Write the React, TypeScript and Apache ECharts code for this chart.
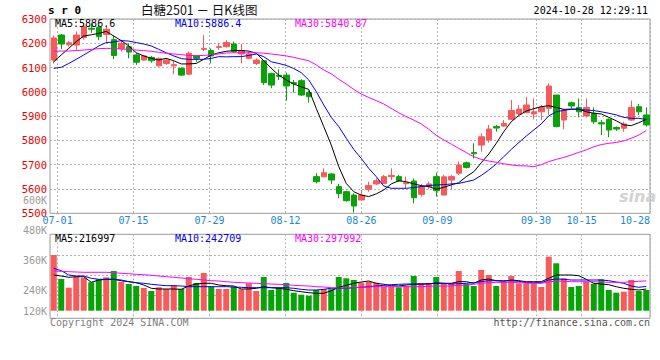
import React, { useEffect, useRef } from 'react';
import * as echarts from 'echarts';

const DATES = [
  '06-28',
  '07-01','07-02','07-03','07-04','07-05','07-08','07-09','07-10','07-11','07-12','07-15','07-16','07-17','07-18','07-19','07-22','07-23','07-24','07-25','07-26','07-29','07-30','07-31',
  '08-01','08-02','08-05','08-06','08-07','08-08','08-09','08-12','08-13','08-14','08-15','08-16','08-19','08-20','08-21','08-22','08-23','08-26','08-27','08-28','08-29','08-30',
  '09-02','09-03','09-04','09-05','09-06','09-09','09-10','09-11','09-12','09-13','09-18','09-19','09-20','09-23','09-24','09-25','09-26','09-27','09-30',
  '10-08','10-09','10-10','10-11','10-14','10-15','10-16','10-17','10-18','10-21','10-22','10-23','10-24','10-25','10-28'
];
const LABEL_DATES = ['07-01', '07-15', '07-29', '08-12', '08-26', '09-09', '09-30', '10-15', '10-28'];

const OPEN = [6131,6234,6194,6193,6224,6262,6266,6236,6215,6179,
  6186,6152,6131,6142,6107,6117,6107,6097,6073,6148,
  6175,6170,6183,6186,6197,6156,6138,6117,6128,6076,
  6068,6069,6038,6046,5997,5651,5650,5662,5610,5589,
  5575,5555,5599,5621,5623,5651,5651,5622,5633,5578,
  5610,5651,5575,5637,5665,5708,5750,5781,5802,5857,
  5859,5887,5909,5914,5909,5918,5932,5987,5884,5955,
  5936,5901,5912,5873,5887,5853,5850,5884,5939,5905];
const CLOSE = [6222,6197,6202,6234,6268,6258,6228,6258,6150,6200,
  6164,6122,6148,6128,6138,6131,6112,6069,6159,6138,
  6179,6148,6186,6203,6166,6170,6156,6131,6038,6028,
  6064,6024,6034,5987,5980,5630,5667,5637,5582,5552,
  5530,5575,5614,5634,5651,5656,5634,5626,5564,5610,
  5621,5593,5650,5651,5699,5689,5745,5815,5847,5851,
  5870,5923,5929,5946,5918,5936,6024,5857,5925,5942,
  5918,5936,5877,5868,5843,5847,5868,5936,5918,5864];
const LOW = [6117,6176,6186,6172,6215,6243,6213,6200,6135,6166,
  6138,6111,6128,6120,6104,6111,6073,6065,6069,6124,
  6168,6117,6172,6183,6161,6117,6134,6111,6028,6015,
  6049,5964,5997,5983,5955,5623,5650,5621,5562,5548,
  5503,5552,5589,5617,5621,5637,5630,5599,5541,5569,
  5599,5569,5573,5596,5658,5685,5726,5754,5791,5836,
  5857,5884,5905,5912,5887,5884,5905,5854,5846,5932,
  5895,5895,5868,5822,5813,5839,5836,5881,5905,5857];
const HIGH = [6232,6238,6209,6248,6282,6285,6275,6268,6232,6214,
  6200,6159,6152,6148,6142,6138,6128,6101,6166,6152,
  6234,6179,6202,6214,6207,6197,6166,6138,6128,6079,
  6093,6079,6049,6052,6005,5665,5685,5665,5621,5593,
  5582,5596,5630,5644,5658,5685,5658,5651,5644,5621,
  5630,5667,5658,5658,5713,5713,5788,5829,5864,5864,
  5884,5967,5946,5980,5973,5946,6035,5987,5929,5960,
  5973,5973,5936,5884,5891,5857,5877,5964,5950,5936];

const MA5 = [6124,6152,6179,6207,6230,6235,6241,6249,6230,6211,
  6189,6161,6148,6138,6131,6138,6128,6115,6115,6117,
  6134,6152,6161,6167,6170,6170,6168,6159,6128,6097,
  6069,6049,6032,6021,6010,5932,5857,5781,5692,5623,
  5589,5575,5569,5580,5596,5621,5634,5630,5621,5614,
  5610,5599,5607,5617,5626,5651,5671,5708,5744,5788,
  5836,5877,5903,5921,5931,5939,5943,5936,5928,5929,
  5929,5918,5912,5909,5895,5881,5864,5861,5873,5886.6];
const MA10 = [6097,6101,6117,6134,6152,6170,6189,6203,6205,6211,
  6209,6203,6197,6189,6175,6161,6148,6137,6134,6134,
  6134,6138,6145,6144,6145,6145,6150,6156,6145,6124,
  6117,6109,6096,6079,6049,6001,5946,5895,5857,5809,
  5763,5726,5685,5651,5612,5603,5603,5603,5606,5610,
  5614,5617,5618,5621,5623,5630,5637,5656,5678,5703,
  5733,5763,5791,5818,5843,5868,5901,5918,5924,5928,
  5928,5925,5923,5918,5912,5905,5895,5891,5891,5886.4];
const MA30 = [6168,6168,6168,6170,6172,6175,6178,6179,6179,6176,
  6175,6172,6170,6167,6163,6159,6156,6153,6150,6149,
  6150,6153,6156,6160,6161,6161,6161,6161,6159,6156,
  6152,6148,6142,6135,6128,6111,6090,6074,6052,6032,
  6010,5991,5977,5964,5950,5932,5914,5898,5884,5868,
  5846,5821,5802,5785,5767,5750,5733,5722,5715,5710,
  5704,5699,5696,5695,5692,5700,5713,5722,5730,5740,
  5751,5761,5774,5783,5788,5792,5798,5809,5822,5840.87];

const VOLUME = [557000,317000,230000,340000,330000,284000,314000,334000,397000,290000,
  267000,247000,227000,197000,234000,217000,254000,217000,337000,277000,
  377000,240000,217000,217000,240000,214000,274000,197000,337000,207000,
  230000,277000,180000,160000,150000,207000,217000,214000,337000,324000,
  307000,280000,290000,280000,240000,240000,234000,247000,347000,274000,
  274000,337000,274000,274000,397000,267000,247000,407000,357000,247000,
  290000,347000,274000,274000,274000,237000,540000,474000,324000,237000,
  247000,290000,270000,314000,207000,180000,190000,307000,197000,207000];
const VOL_MA5 = [357000,347000,334000,340000,340000,284000,307000,314000,314000,300000,
  290000,280000,257000,224000,217000,217000,217000,214000,247000,267000,
  274000,274000,257000,250000,247000,217000,217000,224000,240000,230000,
  224000,214000,200000,190000,180000,174000,174000,200000,234000,254000,
  274000,287000,297000,274000,264000,250000,247000,257000,264000,267000,
  270000,274000,274000,274000,290000,290000,274000,307000,317000,300000,
  294000,307000,300000,290000,290000,290000,324000,357000,357000,357000,
  350000,314000,274000,267000,260000,240000,224000,214000,207000,216997];
const VOL_MA10 = [424000,400000,357000,347000,347000,324000,314000,314000,314000,307000,
  290000,280000,274000,264000,257000,250000,250000,247000,240000,240000,
  240000,240000,240000,240000,237000,234000,230000,230000,230000,230000,
  230000,230000,224000,214000,207000,207000,214000,224000,224000,224000,
  230000,234000,240000,247000,254000,260000,264000,267000,267000,267000,
  267000,280000,274000,267000,270000,274000,280000,290000,300000,300000,
  300000,300000,294000,280000,280000,280000,307000,317000,314000,307000,
  307000,307000,307000,307000,300000,287000,274000,247000,234000,242709];
const VOL_MA30 = [397000,394000,390000,387000,384000,384000,384000,384000,380000,374000,
  370000,364000,360000,354000,347000,340000,334000,327000,320000,314000,
  307000,300000,297000,290000,284000,280000,277000,274000,270000,267000,
  264000,260000,254000,250000,247000,240000,237000,230000,227000,227000,
  230000,234000,237000,240000,240000,240000,240000,240000,240000,240000,
  244000,247000,247000,247000,254000,257000,264000,274000,280000,284000,
  284000,284000,280000,277000,274000,274000,287000,297000,294000,290000,
  290000,290000,290000,287000,284000,284000,284000,290000,294000,297992];

const PRICE_MA_TEXT = ['MA5:5886.6', 'MA10:5886.4', 'MA30:5840.87'];
const VOL_MA_TEXT = ['MA5:216997', 'MA10:242709', 'MA30:297992'];
const HEADER_SYMBOL = 's r 0';
const HEADER_TITLE = '白糖2501 － 日K线图';
const HEADER_TIME = '2024-10-28 12:29:11';
const FOOT_LEFT = 'Copyright 2024 SINA.COM';
const FOOT_RIGHT = 'http://finance.sina.com.cn';

const RED = '#f65a5a';
const GREEN = '#08a308';
const MA_COLORS = ['#000000', '#0000ee', '#ff00ff'];
const GRID_LINE = '#b4b4b4';
const BORDER = '#9a9a9a';
const MONO = '"DejaVu Sans Mono", "Liberation Mono", monospace';

export default function App() {
  const ref = useRef<HTMLDivElement>(null);
  useEffect(() => {
    if (!ref.current) return;
    const chart = echarts.init(ref.current, null, { renderer: 'svg', width: 660, height: 360 });
    const isLabel = (idx: number) => LABEL_DATES.indexOf(DATES[idx]) >= 0;
    const lastIdx = DATES.length - 1;
    const dotted = { color: GRID_LINE, width: 1, type: [2, 2] as any };

    const legendTexts = (texts: string[], y: number) =>
      texts.map((t, k) => ({
        type: 'text',
        left: 55 + k * 120,
        top: y,
        silent: true,
        style: { text: t, fill: MA_COLORS[k], font: `10px ${MONO}` },
        z: 100,
      }));

    const option: any = {
      animation: false,
      backgroundColor: '#ffffff',
      grid: [
        { left: 50, top: 19, width: 600, height: 194.3, show: true, borderColor: BORDER, borderWidth: 1, backgroundColor: 'transparent' },
        { left: 50, top: 234.3, width: 600, height: 76.4, show: false },
        { left: 50, top: 234.3, width: 600, height: 84, show: true, borderColor: BORDER, borderWidth: 1, backgroundColor: 'transparent' },
        { left: 50, top: 235, width: 600, height: 80, show: false },
        { left: 50, top: 200.7, width: 600, height: 120, show: false },
      ],
      xAxis: [
        { type: 'category', gridIndex: 0, data: DATES, boundaryGap: true, show: false, position: 'top' },
        {
          type: 'category', gridIndex: 0, data: DATES, boundaryGap: false, position: 'bottom',
          axisLine: { show: false }, axisTick: { show: false },
          axisLabel: {
            interval: (i: number) => isLabel(i),
            color: '#1a88d2', fontFamily: MONO, fontSize: 10, margin: 2,
            formatter: (v: string, i: number) => (i === lastIdx ? `{last|${v}}` : v),
            rich: { last: { padding: [0, 30, 0, 0], color: '#1a88d2', fontFamily: MONO, fontSize: 10 } },
          },
          splitLine: { show: true, interval: (i: number) => isLabel(i), lineStyle: dotted },
        },
        { type: 'category', gridIndex: 1, data: DATES, boundaryGap: true, show: false },
        {
          type: 'category', gridIndex: 2, data: DATES, boundaryGap: false,
          axisLine: { show: false }, axisTick: { show: false }, axisLabel: { show: false },
          splitLine: { show: true, interval: (i: number) => isLabel(i), lineStyle: dotted },
        },
        { type: 'category', gridIndex: 3, data: DATES, show: false },
        { type: 'category', gridIndex: 4, data: DATES, show: false },
      ],
      yAxis: [
        {
          type: 'value', gridIndex: 0, min: 5500, max: 6300, interval: 100, position: 'left',
          axisLine: { show: false }, axisTick: { show: false },
          axisLabel: { color: '#ee0000', fontFamily: MONO, fontSize: 10.5, margin: 3, padding: [0, 0, 3, 0], formatter: (v: number) => String(v) },
          splitLine: { show: true, lineStyle: dotted },
        },
        { type: 'value', gridIndex: 1, min: 0, max: 764000, show: false },
        { type: 'value', gridIndex: 2, min: 0, max: 1, show: false },
        {
          type: 'value', gridIndex: 3, min: 0, max: 80, interval: 20,
          axisLine: { show: false }, axisTick: { show: false }, axisLabel: { show: false },
          splitLine: { show: true, showMinLine: false, showMaxLine: false, lineStyle: dotted },
        },
        {
          type: 'value', gridIndex: 4, min: 120000, max: 600000, interval: 120000,
          axisLine: { show: false }, axisTick: { show: false }, splitLine: { show: false },
          axisLabel: {
            color: '#9a9a9a', fontFamily: MONO, fontSize: 10, margin: 3,
            formatter: (v: number) => (v === 120000 ? `{lift|${v / 1000}K}` : `${v / 1000}K`),
            rich: { lift: { padding: [0, 0, 18, 0], color: '#9a9a9a', fontFamily: MONO, fontSize: 10 } },
          },
        },
      ],
      series: [
        {
          type: 'candlestick', xAxisIndex: 0, yAxisIndex: 0, barWidth: 6,
          data: OPEN.map((o, i) => [o, CLOSE[i], LOW[i], HIGH[i]]),
          itemStyle: { color: RED, color0: GREEN, borderColor: RED, borderColor0: GREEN, borderWidth: 1 },
          z: 2,
        },
        ...[MA5, MA10, MA30].map((d, k) => ({
          type: 'line', xAxisIndex: 0, yAxisIndex: 0, data: d, symbol: 'none', silent: true,
          lineStyle: { color: MA_COLORS[k], width: 1 }, z: 5,
        })),
        {
          type: 'bar', xAxisIndex: 2, yAxisIndex: 1, barWidth: 6,
          data: VOLUME.map((v, i) => ({ value: v, itemStyle: { color: CLOSE[i] >= OPEN[i] ? RED : GREEN } })),
          z: 2,
        },
        ...[VOL_MA5, VOL_MA10, VOL_MA30].map((d, k) => ({
          type: 'line', xAxisIndex: 2, yAxisIndex: 1, data: d, symbol: 'none', silent: true,
          lineStyle: { color: MA_COLORS[k], width: 1 }, z: 5,
        })),
      ],
      graphic: [
        { type: 'text', left: 48, top: 5, silent: true, style: { text: HEADER_SYMBOL, fill: '#000', font: `bold 11px ${MONO}` } },
        { type: 'text', left: 141, top: 3, silent: true, style: { text: HEADER_TITLE, fill: '#111', font: '12.5px "Noto Sans CJK SC", sans-serif' } },
        { type: 'text', right: 12, top: 5, silent: true, style: { text: HEADER_TIME, fill: '#000', font: `10px ${MONO}` } },
        ...legendTexts(PRICE_MA_TEXT, 18),
        ...legendTexts(VOL_MA_TEXT, 233),
        { type: 'text', left: 50, top: 317, silent: true, style: { text: FOOT_LEFT, fill: '#808080', font: `10px ${MONO}` } },
        { type: 'text', right: 10, top: 317, silent: true, style: { text: FOOT_RIGHT, fill: '#555555', font: `10px ${MONO}` } },
        { type: 'text', left: 619, top: 188, silent: true, style: { text: 'sina', fill: '#d2d2d2', font: 'italic bold 16px "DejaVu Sans", sans-serif' } },
      ],
    };
    chart.setOption(option);
    return () => chart.dispose();
  }, []);
  return <div ref={ref} style={{ position: 'fixed', left: 0, top: 0, width: 660, height: 360, background: '#fff' }} />;
}
